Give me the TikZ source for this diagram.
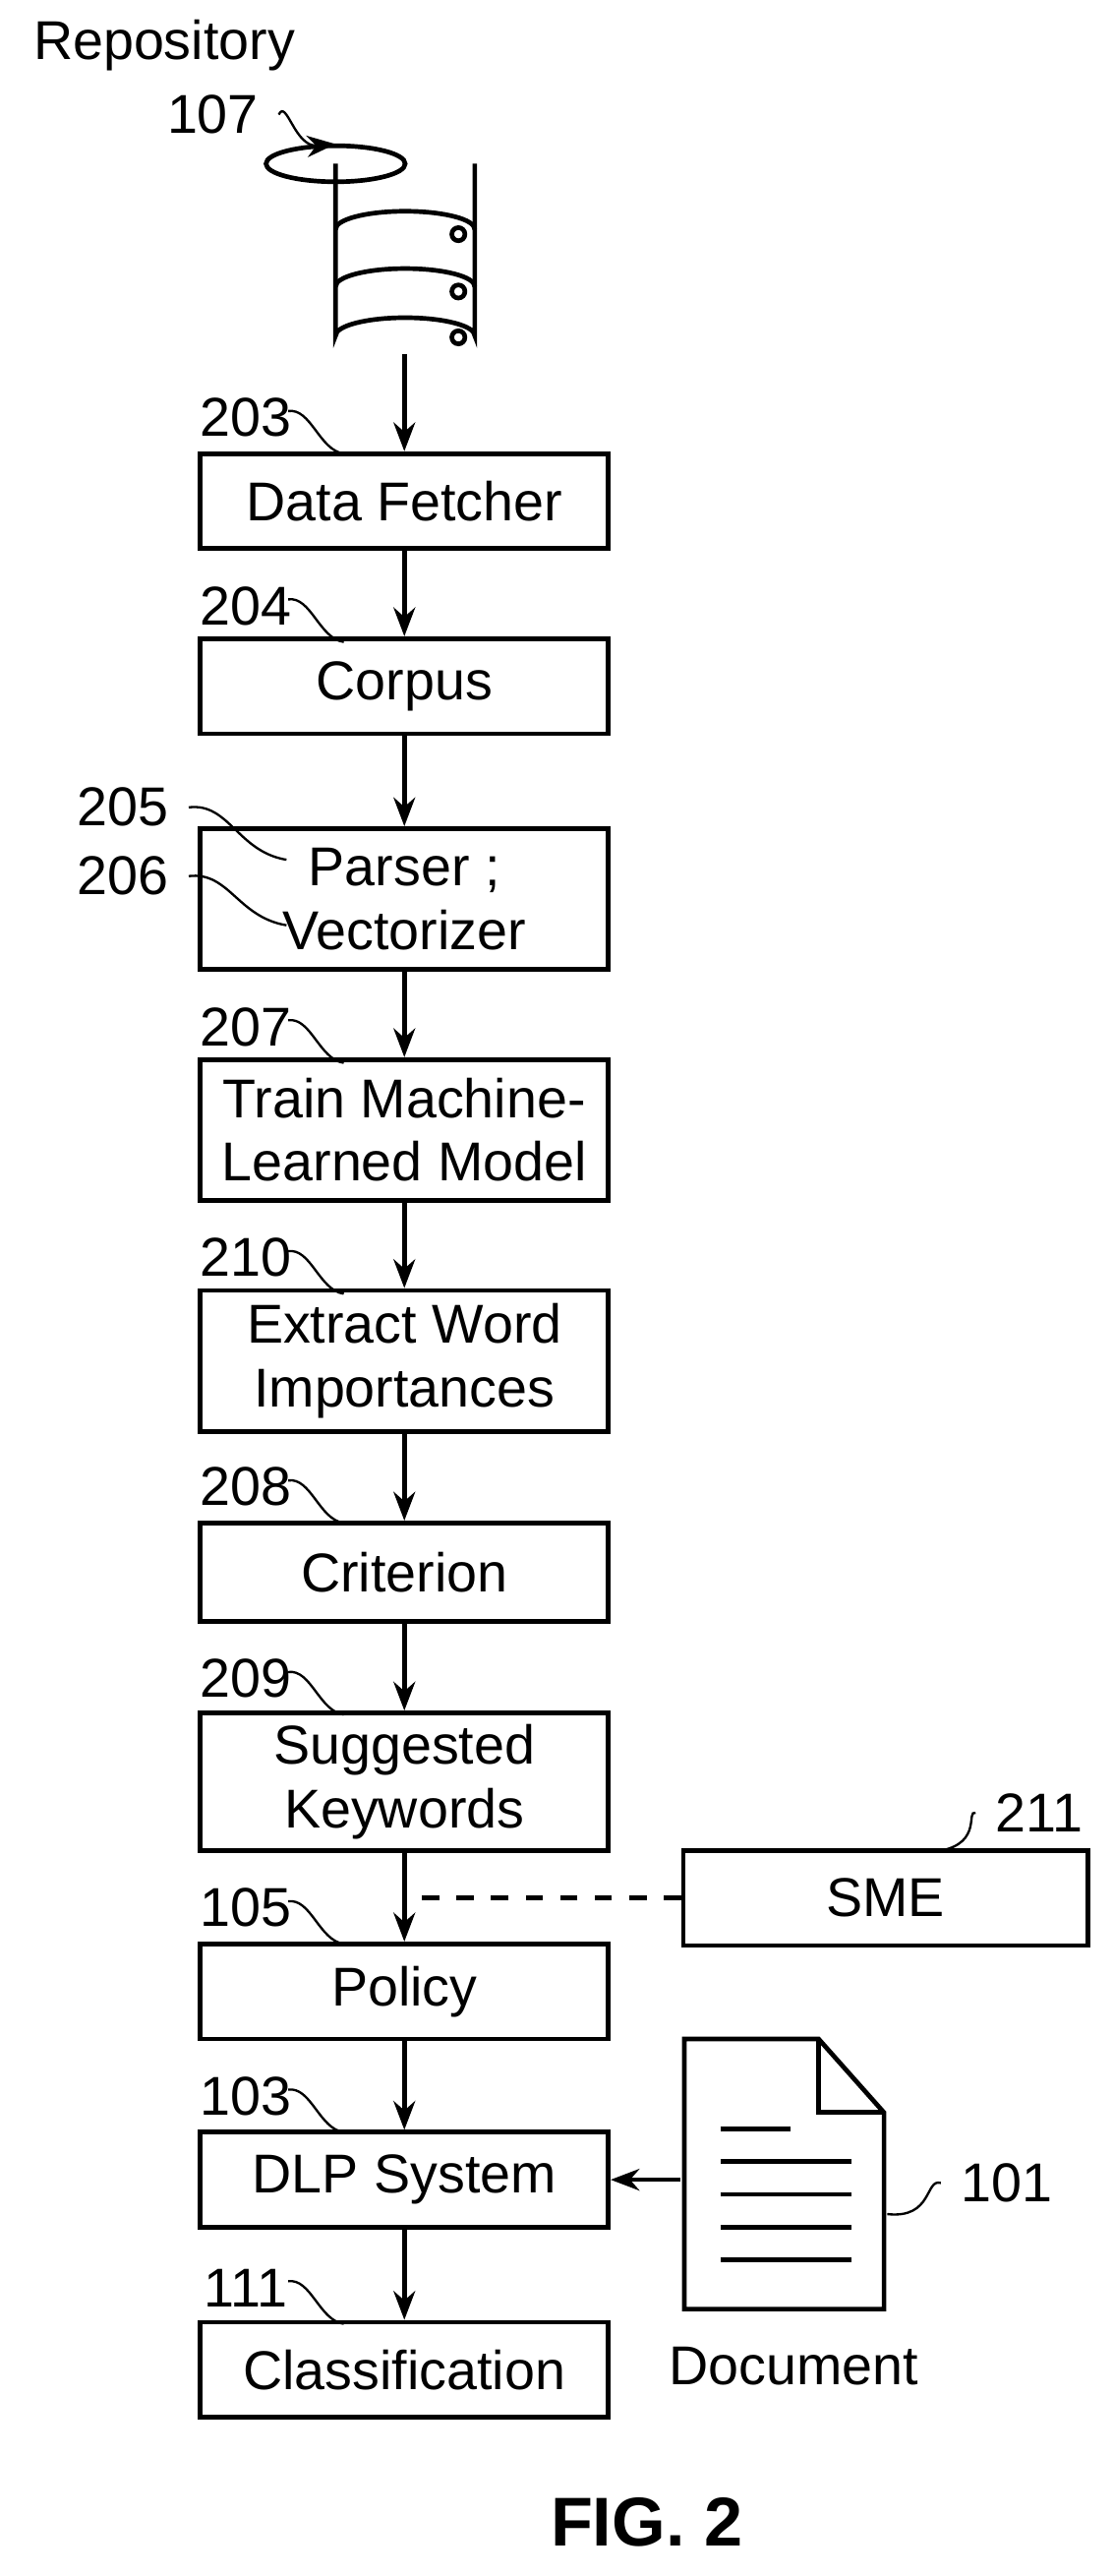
\documentclass[tikz,border=0pt]{standalone}
\usepackage{fontspec}
\setmainfont{Liberation Sans}
\usetikzlibrary{arrows.meta}
\begin{document}
\begin{tikzpicture}[x=0.01cm,y=-0.01cm,font=\fontsize{9.5}{11}\selectfont,
  box/.style={draw,thick,minimum width=2.49cm,align=center,inner sep=0pt},
  flow/.style={thick,-{Stealth[length=5pt]}},
  lead/.style={thin}]
\useasboundingbox (0,0) rectangle (680,1573);
% database
\node[inner sep=0pt] (db) at (247,150) {};
\draw[thick,fill=white] (205,100) -- (205,205) arc[start angle=180,end angle=360,x radius=42.5,y radius=11] -- (290,100);
\draw[thick] (205,100) ellipse[x radius=42.5,y radius=11];
\draw[thick] (205,140) arc[start angle=180,end angle=360,x radius=42.5,y radius=11];
\draw[thick] (205,175) arc[start angle=180,end angle=360,x radius=42.5,y radius=11];
\foreach \yy in {143,178,206} \draw[thick] (280,\yy) circle (4);
\coordinate (dbb) at (247,216);
\node[anchor=west] (repo) at (8,28) {Repository};
\node (n107) at (130,70) {107};
\draw[lead,-{Stealth[length=5pt]}] (n107.east) .. controls (175,60) and (180,90) .. (205,88);
% boxes
\node[box,minimum height=0.58cm] (fetch) at (247,306) {Data Fetcher};
\node[box,minimum height=0.58cm] (corpus) at (247,419) {Corpus};
\node[box,minimum height=0.86cm] (parser) at (247,549) {Parser ;\\Vectorizer};
\node[box,minimum height=0.86cm] (train) at (247,690) {Train Machine-\\Learned Model};
\node[box,minimum height=0.86cm] (extract) at (247,831) {Extract Word\\Importances};
\node[box,minimum height=0.60cm] (crit) at (247,960) {Criterion};
\node[box,minimum height=0.84cm] (sugg) at (247,1088) {Suggested\\Keywords};
\node[box,minimum height=0.58cm] (policy) at (247,1216) {Policy};
\node[box,minimum height=0.58cm] (dlp) at (247,1331) {DLP System};
\node[box,minimum height=0.58cm] (class) at (247,1447) {Classification};
\node[box,minimum width=2.47cm,minimum height=0.58cm] (sme) at (541,1159) {SME};
% flow
\draw[flow] (dbb) -- (fetch);
\foreach \from/\to in {fetch/corpus,corpus/parser,parser/train,train/extract,extract/crit,crit/sugg,sugg/policy,policy/dlp,dlp/class}
  \draw[flow] (\from) -- (\to);
\coordinate (join) at (247,1159);
\draw[thick,dashed] (sme.west) -- (join);
% document
\draw[thick,fill=white] (418,1245) -- (500,1245) -- (540,1290) -- (540,1410) -- (418,1410) -- cycle;
\draw[thick] (500,1245) -- (500,1290) -- (540,1290);
\foreach \yy/\xe in {1300/483,1320/520,1340/520,1360/520,1380/520} \draw[thick] (440,\yy) -- (\xe,\yy);
\node[inner sep=0pt] (doc) at (418,1331) {};
\draw[flow] (doc) -- (dlp);
\node (docl) at (485,1445) {Document};
\node (n101) at (615,1333) {101};
\draw[lead] (n101.west) .. controls (565,1330) and (570,1355) .. (542,1352);
% reference numerals
\foreach \lbl/\xx/\yy in {203/150/255,204/150/370,207/150/627,210/150/768,208/150/908,209/150/1025,105/150/1165,103/150/1280,111/150/1397} {
  \node (r\lbl) at (\xx,\yy) {\lbl};
  \draw[lead] (\xx+26,\yy-4) .. controls (190,\yy-6) and (195,\yy+20) .. (210,\yy+22);
}
\node (r205) at (75,493) {205};
\draw[lead] (r205.east) .. controls (140,490) and (145,520) .. (175,525);
\node (r206) at (75,535) {206};
\draw[lead] (r206.east) .. controls (140,532) and (145,560) .. (175,565);
\node (r211) at (635,1107) {211};
\draw[lead] (r211.west) .. controls (590,1105) and (600,1125) .. (575,1130);
\node[font=\bfseries\fontsize{12}{14}\selectfont] (fig) at (395,1540) {FIG. 2};
\end{tikzpicture}
\end{document}
